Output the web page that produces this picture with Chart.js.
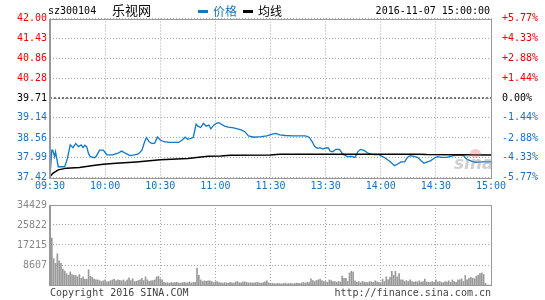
<!DOCTYPE html>
<html>
<head>
<meta charset="utf-8">
<script src="https://cdn.jsdelivr.net/npm/chart.js@4.4.0/dist/chart.umd.min.js"></script>
<style>
  body { margin: 0; background: #fff; }
  #wrap { position: relative; width: 545px; height: 300px; overflow: hidden; font-family: "DejaVu Sans Mono", monospace; }
  canvas { position: absolute; left: 0; }
  .txt { position: absolute; white-space: nowrap; font-size: 10px; line-height: 12px; }
  .cjk { font-family: "Noto Sans CJK SC"; }
</style>
</head>
<body>
<div id="wrap">
  <canvas id="priceChart" width="545" height="196" style="top:0"></canvas>
  <canvas id="volChart" width="545" height="104" style="top:196px"></canvas>
  <div class="txt" style="left:48px;top:5px;color:#000">sz300104</div>
  <div class="txt cjk" style="left:112px;top:2px;font-size:13px;line-height:16px">乐视网</div>
  <div style="position:absolute;left:198px;top:10px;width:10px;height:3px;background:#0f78c8"></div>
  <div class="txt cjk" style="left:213px;top:3px;font-size:12px;line-height:15px;color:#0f78c8">价格</div>
  <div style="position:absolute;left:243px;top:10px;width:10px;height:3px;background:#000"></div>
  <div class="txt cjk" style="left:258px;top:3px;font-size:12px;line-height:15px;color:#000">均线</div>
  <div class="txt" style="right:55px;top:5px;color:#000">2016-11-07 15:00:00</div>
  <div style="position:absolute;left:470px;top:149px;width:11px;height:9px;border-radius:50%;background:rgba(235,110,110,0.35)"></div>
  <div class="txt" style="left:454px;top:153px;font-family:'DejaVu Sans';font-style:italic;font-weight:bold;font-size:17px;line-height:20px;color:rgba(150,150,150,0.45)">sina</div>
  <div class="txt" style="left:50px;top:287px;color:#444">Copyright 2016 SINA.COM</div>
  <div class="txt" style="right:54px;top:287px;color:#444">http://finance.sina.com.cn</div>
</div>
<script>
// 昨收价和刻度
const prevClose = 39.71;
const priceTicks = [37.42, 37.99, 38.56, 39.14, 39.71, 40.28, 40.86, 41.43, 42.00];
const pctLabels = ["-5.77%", "-4.33%", "-2.88%", "-1.44%", "0.00%", "+1.44%", "+2.88%", "+4.33%", "+5.77%"];
const timeTicks = [0, 30, 60, 90, 120, 150, 180, 210, 240];
const timeLabels = ["09:30", "10:00", "10:30", "11:00", "11:30", "13:30", "14:00", "14:30", "15:00"];
const volTicks = [8607, 17215, 25822, 34429];

// 分时价格 (分钟序号, 价格)
const priceT = [0, 1, 1.5, 2.5, 3, 4.5, 8, 9.5, 11, 12.5, 14, 15.5, 17, 18, 19, 20, 21, 22, 24, 25,
  27, 29, 31, 34, 37, 39, 41, 43.5, 46, 48, 50, 51.5, 52.5, 54, 55.5, 57, 58.5, 60, 62, 65,
  70, 72, 73.5, 75, 77, 78, 79.5, 80.5, 82, 83.5, 85, 86.5, 87.5, 89, 90.5, 92, 93, 95, 97, 100,
  104, 106, 108, 111, 115, 118, 121, 123, 125, 128, 132, 136, 139, 141, 142.5, 144, 145.5, 147, 148.5, 150,
  151.5, 152.5, 154, 155.5, 157.5, 159, 160, 162, 164, 166, 167.5, 169, 171, 172.5, 174, 176, 179, 181, 183, 185,
  187.5, 189, 191, 193, 194.5, 196, 198, 200, 202, 203.5, 205, 207, 209.5, 211, 213, 216, 219, 223, 225, 227,
  229, 231, 235, 240];
const priceV = [37.45, 38.21, 38.21, 38.02, 38.16, 37.73, 37.73, 37.97, 38.36, 38.28, 38.40, 38.31, 38.36, 38.28, 38.35, 38.30, 38.10, 38.02, 37.99, 38.02,
  38.21, 38.21, 38.07, 38.07, 38.12, 38.18, 38.12, 38.05, 38.07, 38.10, 38.20, 38.45, 38.57, 38.45, 38.40, 38.41, 38.59, 38.50, 38.45, 38.43,
  38.43, 38.50, 38.58, 38.52, 38.55, 38.58, 38.96, 38.90, 38.86, 38.98, 38.90, 38.93, 38.82, 38.92, 38.98, 39.00, 38.96, 38.90, 38.87, 38.85,
  38.79, 38.74, 38.62, 38.58, 38.60, 38.62, 38.67, 38.69, 38.65, 38.63, 38.62, 38.62, 38.62, 38.58, 38.47, 38.32, 38.26, 38.28, 38.24, 38.27,
  38.27, 38.18, 38.16, 38.23, 38.23, 38.12, 38.07, 38.02, 38.03, 38.00, 38.16, 38.23, 38.20, 38.14, 38.10, 38.08, 38.08, 38.02, 37.96, 37.88,
  37.76, 37.80, 37.87, 37.87, 38.00, 38.05, 38.03, 38.00, 37.90, 37.83, 37.86, 37.90, 37.99, 38.02, 38.00, 38.00, 38.04, 38.07, 38.05, 37.94,
  37.90, 37.86, 37.87, 37.87];

// 均价线
const avgT = [0, 1.5, 4.5, 9, 16, 22.5, 29, 36, 47, 60, 75, 81, 86, 93, 98, 120, 125, 200, 205, 240];
const avgV = [37.44, 37.54, 37.64, 37.69, 37.71, 37.76, 37.80, 37.83, 37.87, 37.93, 37.97, 38.00, 38.03, 38.04, 38.06, 38.07, 38.09, 38.09, 38.08, 38.07];

// 每分钟成交量
const volume = [
  34429, 20200, 11300, 9300, 13400, 10400, 9300, 6800, 6000, 4900,
  4200, 5600, 4500, 4200, 4100, 3500, 4500, 2900, 3500, 2500,
  2500, 6600, 3800, 3300, 2500, 2200, 2200, 1900, 1500, 1800,
  2200, 1400, 1500, 1900, 2200, 2500, 1800, 2200, 2000, 1800,
  2200, 1400, 2200, 3100, 1900, 2700, 1500, 1600, 1900, 2200,
  2900, 1900, 3500, 2200, 1600, 1800, 1900, 2200, 3500, 3800,
  2600, 2200, 1100, 900, 1000, 800, 1100, 900, 1000, 1200,
  900, 800, 1000, 1100, 900, 1000, 1300, 900, 1100, 1200,
  7250, 4200, 2200, 1500, 1800, 1600, 1800, 1800, 1500, 1100,
  1400, 1500, 1000, 900, 800, 1000, 900, 800, 1100, 900,
  800, 1300, 1500, 1000, 900, 1400, 1300, 1100, 900, 1000,
  800, 900, 1000, 1200, 900, 800, 1000, 1400, 1800, 900,
  800, 700, 600, 500, 700, 600, 500, 600, 800, 500,
  600, 700, 500, 600, 800, 700, 600, 900, 1100, 800,
  1200, 1000, 2700, 1900, 1500, 1900, 2200, 2500, 1900, 1500,
  1500, 1200, 2200, 1900, 1500, 1500, 1200, 1500, 1300, 3800,
  2900, 2900, 1600, 5200, 5900, 5600, 1800, 1200, 1500, 1000,
  1500, 1300, 1200, 1000, 1500, 1300, 1200, 1800, 1400, 1200,
  1000, 2500, 1500, 3500, 2200, 3300, 5900, 4200, 5900, 3500,
  4900, 2200, 2200, 1500, 1900, 1500, 2200, 1500, 1200, 1500,
  1300, 1800, 1200, 1500, 2500, 1300, 1200, 1100, 1500, 1200,
  2200, 1300, 1500, 1200, 1000, 1500, 1300, 1800, 1200, 2200,
  1500, 1200, 2200, 2200, 2700, 1500, 4100, 2200, 2900, 3300,
  2900, 2700, 3800, 4200, 4900, 5200, 4500, 700, 0, 0,
  0
];

const BLUE = "#0f78c8";
const LABEL_BLUE = "#1a70c8";
const RED = "#f00000";
const GRID = "#a8a8a8";
const FONT = { family: "DejaVu Sans Mono", size: 10 };

// 画图表边框
const frame = {
  id: "frame",
  afterDraw(chart) {
    const a = chart.chartArea;
    const ctx = chart.ctx;
    ctx.save();
    ctx.strokeStyle = "#999";
    ctx.lineWidth = 1;
    ctx.strokeRect(Math.round(a.left) + 0.5, Math.round(a.top) + 0.5, Math.round(a.right - a.left), Math.round(a.bottom - a.top));
    ctx.fillStyle = "#999";
    ctx.fillRect(Math.round(a.left) - 1, Math.round(a.top), 2, Math.round(a.bottom - a.top) + 1);
    ctx.restore();
  }
};

function priceColor(v) {
  if (Math.abs(v - prevClose) < 0.001) return "#000";
  return v > prevClose ? RED : LABEL_BLUE;
}

const setTicks = (vals) => (scale) => { scale.ticks = vals.map((v) => ({ value: v })); };

new Chart(document.getElementById("priceChart"), {
  type: "line",
  data: {
    datasets: [
      {
        label: "昨收",
        data: [{ x: 0, y: prevClose }, { x: 240, y: prevClose }],
        borderColor: "#000",
        borderWidth: 1,
        borderDash: [2, 2],
        pointRadius: 0
      },
      {
        label: "均线",
        data: avgT.map((t, i) => ({ x: t, y: avgV[i] })),
        borderColor: "#000",
        borderWidth: 1.5,
        pointRadius: 0,
        tension: 0
      },
      {
        label: "价格",
        data: priceT.map((t, i) => ({ x: t, y: priceV[i] })),
        borderColor: BLUE,
        borderWidth: 1.3,
        pointRadius: 0,
        tension: 0
      }
    ]
  },
  options: {
    responsive: false,
    animation: false,
    events: [],
    layout: { padding: { top: 18.5 } },
    plugins: { legend: { display: false }, tooltip: { enabled: false } },
    scales: {
      x: {
        type: "linear",
        min: 0,
        max: 240,
        afterBuildTicks: setTicks(timeTicks),
        afterFit: (s) => { s.height = 18.5; },
        ticks: {
          autoSkip: false,
          maxRotation: 0,
          padding: 3,
          color: LABEL_BLUE,
          font: FONT,
          callback: (v) => timeLabels[timeTicks.indexOf(v)]
        },
        grid: { color: GRID, drawTicks: false },
        border: { display: false, dash: [1, 2] }
      },
      y: {
        position: "left",
        min: priceTicks[0],
        max: priceTicks[priceTicks.length - 1],
        afterBuildTicks: setTicks(priceTicks),
        afterFit: (s) => { s.width = 50; },
        ticks: {
          padding: 3,
          font: FONT,
          color: (c) => priceColor(c.tick.value),
          callback: (v) => v.toFixed(2)
        },
        grid: { color: GRID, drawTicks: false },
        border: { display: false, dash: [1, 2] }
      },
      yR: {
        position: "right",
        min: priceTicks[0],
        max: priceTicks[priceTicks.length - 1],
        afterBuildTicks: setTicks(priceTicks),
        afterFit: (s) => { s.width = 54; },
        ticks: {
          padding: 3,
          font: FONT,
          color: (c) => priceColor(c.tick.value),
          callback: (v) => pctLabels[priceTicks.indexOf(v)]
        },
        grid: { display: false },
        border: { display: false }
      }
    }
  },
  plugins: [frame]
});

new Chart(document.getElementById("volChart"), {
  type: "bar",
  data: {
    datasets: [{
      label: "成交量",
      data: volume.map((v, i) => ({ x: i, y: v })),
      backgroundColor: "#999",
      barThickness: 1
    }]
  },
  options: {
    responsive: false,
    animation: false,
    events: [],
    layout: { padding: { top: 5, right: 54 } },
    plugins: { legend: { display: false }, tooltip: { enabled: false } },
    scales: {
      x: {
        type: "linear",
        min: 0,
        max: 240,
        offset: false,
        afterBuildTicks: setTicks(timeTicks),
        afterFit: (s) => { s.height = 15; },
        ticks: { display: false },
        grid: { color: GRID, drawTicks: false, offset: false },
        border: { display: false, dash: [1, 2] }
      },
      y: {
        min: 0,
        max: volTicks[volTicks.length - 1],
        afterBuildTicks: setTicks(volTicks),
        afterFit: (s) => { s.width = 50; },
        ticks: { padding: 3, font: FONT, color: "#888", callback: (v) => String(v) },
        grid: { color: GRID, drawTicks: false },
        border: { display: false, dash: [1, 2] }
      }
    }
  },
  plugins: [frame]
});
</script>
</body>
</html>
